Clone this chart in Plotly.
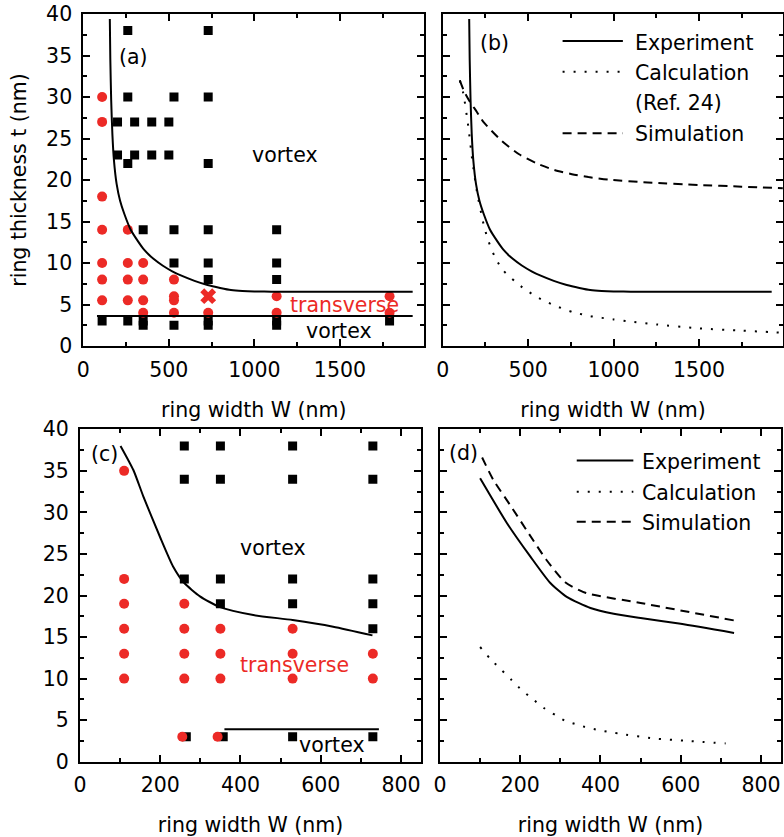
import plotly.graph_objects as go

# ---------------- data ----------------
# (a) phase diagram, Py rings: ring width W (nm) vs thickness t (nm)
a_vortex_W = [110, 200, 200, 260, 260, 260, 260, 300, 300, 350, 350, 350, 400, 400, 500, 500,
              530, 530, 530, 530, 730, 730, 730, 730, 730, 730, 730, 730,
              1130, 1130, 1130, 1130, 1130, 1790]
a_vortex_t = [3, 27, 23, 38, 30, 22, 3, 27, 23, 14, 3, 2.5, 27, 23, 27, 23,
              30, 14, 10, 2.5, 38, 30, 22, 14, 10, 8, 3, 2.5,
              14, 10, 8, 3, 2.5, 3]
a_trans_W = [110, 110, 110, 110, 110, 110, 110, 260, 260, 260, 260, 350, 350, 350, 350,
             530, 530, 530, 530, 730, 1130, 1130, 1790, 1790]
a_trans_t = [30, 27, 18, 14, 10, 8, 5.5, 14, 10, 8, 5.5, 10, 8, 5.5, 4,
             8, 6, 5.5, 4, 4, 6, 4, 6, 4]
a_mixed_W = [730]
a_mixed_t = [6]

# experimental upper phase boundary (shared by panels a and b)
exp_ab_W = [155, 158, 163, 170, 179, 195, 215, 240, 277, 320, 355, 410, 463, 520, 570, 650,
            726, 800, 863, 930, 1000, 1100, 1925]
exp_ab_t = [39.4, 34.5, 29.6, 25.5, 22.4, 19.5, 17.5, 15.9, 14.0, 12.6, 11.6, 10.5, 9.7, 9.0,
            8.5, 7.85, 7.35, 7.0, 6.75, 6.62, 6.56, 6.55, 6.55]
# lower phase boundary (a)
low_a_W = [80, 1925]
low_a_t = [3.6, 3.6]

# (b) calculation (Ref. 24) and simulation
calc_b_W = [100, 121, 150, 173, 202, 240, 265, 306, 350, 424, 480, 551, 620, 677, 760, 863,
            1000, 1107, 1250, 1500, 1750, 1990]
calc_b_t = [32.0, 30.4, 26.4, 22.4, 18.4, 14.6, 12.8, 10.7, 9.2, 7.75, 6.85, 5.9, 5.2, 4.7,
            4.1, 3.6, 3.2, 2.93, 2.6, 2.13, 1.85, 1.6]
sim_b_W = [100, 125, 160, 200, 238, 346, 447, 551, 654, 756, 853, 970, 1200, 1500, 1750, 1990]
sim_b_t = [32.0, 30.7, 29.4, 28.2, 27.0, 24.7, 23.1, 22.0, 21.2, 20.7, 20.35, 20.05, 19.7, 19.4,
           19.2, 19.0]

# (c) phase diagram, Co rings
c_vortex_W = [265, 260, 260, 260, 357, 350, 350, 350, 350, 530, 530, 530, 530, 530,
              730, 730, 730, 730, 730, 730]
c_vortex_t = [3, 22, 34, 38, 3, 19, 22, 34, 38, 3, 19, 22, 34, 38, 3, 16, 19, 22, 34, 38]
c_trans_W = [110, 110, 110, 110, 110, 110, 260, 260, 260, 260, 255, 350, 350, 350, 343,
             530, 530, 530, 730, 730]
c_trans_t = [35, 22, 19, 16, 13, 10, 19, 16, 13, 10, 3, 16, 13, 10, 3, 16, 13, 10, 13, 10]
exp_c_W = [101, 133, 158, 199, 232, 260, 299, 349, 432, 530, 631, 729]
exp_c_t = [38.0, 35.1, 31.9, 27.1, 23.5, 21.5, 19.9, 18.6, 17.65, 17.05, 16.25, 15.2]
low_c_W = [360, 745]
low_c_t = [3.9, 3.9]

# (d) experiment, calculation, simulation
exp_d_W = [100, 167, 225, 275, 317, 375, 433, 500, 600, 733]
exp_d_t = [34.1, 28.7, 24.7, 21.5, 19.8, 18.5, 17.8, 17.3, 16.6, 15.5]
calc_d_W = [100, 125, 154, 179, 204, 232, 258, 288, 313, 340, 367, 396, 425, 450, 533, 617, 712]
calc_d_t = [13.8, 12.4, 11.0, 9.8, 8.6, 7.5, 6.5, 5.6, 4.9, 4.5, 4.1, 3.8, 3.55, 3.35, 2.8, 2.5, 2.2]
sim_d_W = [105, 133, 176, 222, 265, 312, 364, 500, 733]
sim_d_t = [36.6, 33.9, 30.8, 27.4, 24.3, 21.6, 20.3, 19.1, 17.0]

# ---------------- styling ----------------
FONT = "DejaVu Sans, Liberation Sans, sans-serif"
FS = 20.5
RED = "#ec2a26"
DOT = "2px,9px"
DASH = "9px,6px"

fig = go.Figure()


def line(x, y, xa, ya, dash="solid", width=2):
    fig.add_trace(go.Scatter(x=x, y=y, mode="lines", xaxis=xa, yaxis=ya,
                             line=dict(color="black", width=width, dash=dash, shape="spline",
                                       smoothing=0.6),
                             showlegend=False, hoverinfo="skip"))


def squares(x, y, xa, ya):
    fig.add_trace(go.Scatter(x=x, y=y, mode="markers", xaxis=xa, yaxis=ya,
                             marker=dict(symbol="square", size=9, color="black"),
                             showlegend=False))


def circles(x, y, xa, ya):
    fig.add_trace(go.Scatter(x=x, y=y, mode="markers", xaxis=xa, yaxis=ya,
                             marker=dict(symbol="circle", size=10, color=RED),
                             showlegend=False))


# panel (a)
squares(a_vortex_W, a_vortex_t, "x", "y")
circles(a_trans_W, a_trans_t, "x", "y")
fig.add_trace(go.Scatter(x=a_mixed_W, y=a_mixed_t, mode="markers", xaxis="x", yaxis="y",
                         marker=dict(symbol="x", size=14, color=RED), showlegend=False))
line(exp_ab_W, exp_ab_t, "x", "y")
line(low_a_W, low_a_t, "x", "y")

# panel (b)
line(exp_ab_W, exp_ab_t, "x2", "y2")
line(calc_b_W, calc_b_t, "x2", "y2", dash=DOT)
line(sim_b_W, sim_b_t, "x2", "y2", dash=DASH)

# panel (c)
squares(c_vortex_W, c_vortex_t, "x3", "y3")
circles(c_trans_W, c_trans_t, "x3", "y3")
line(exp_c_W, exp_c_t, "x3", "y3")
line(low_c_W, low_c_t, "x3", "y3")

# panel (d)
line(exp_d_W, exp_d_t, "x4", "y4")
line(calc_d_W, calc_d_t, "x4", "y4", dash=DOT)
line(sim_d_W, sim_d_t, "x4", "y4", dash=DASH)

W_FIG, H_FIG = 784, 837


def dom(a, b, total):
    return [a / total, b / total]


def ydom(top, bottom):
    return [1 - bottom / H_FIG, 1 - top / H_FIG]


def axis(**kw):
    base = dict(showline=True, linecolor="black", linewidth=2, mirror="allticks",
                ticks="inside", ticklen=7, tickwidth=1.5, tickcolor="black",
                showgrid=False, zeroline=False, automargin=False, fixedrange=True,
                tickfont=dict(family=FONT, size=FS, color="black"),
                minor=dict(ticks="inside", ticklen=4, tickwidth=1.5, tickcolor="black",
                           showgrid=False))
    base.update(kw)
    return base


XT = dict(text="ring width W (nm)", font=dict(family=FONT, size=FS, color="black"), standoff=22)

fig.update_layout(
    width=W_FIG, height=H_FIG, margin=dict(l=0, r=0, t=0, b=0),
    paper_bgcolor="white", plot_bgcolor="white", showlegend=False,
    font=dict(family=FONT, size=FS, color="black"),
    xaxis=axis(domain=dom(83.3, 424.3, W_FIG), range=[0, 1993], dtick=500, tick0=0,
               minor_dtick=250, anchor="y", title=XT, ticklabelstandoff=4),
    yaxis=axis(domain=ydom(14, 346), range=[0, 40], dtick=5, tick0=0, minor_dtick=2.5,
               anchor="x", ticklabelstandoff=5,
               title=dict(text="ring thickness t (nm)",
                          font=dict(family=FONT, size=FS, color="black"), standoff=14)),
    xaxis2=axis(domain=dom(442.7, 783.3, W_FIG), range=[0, 1993], dtick=500, tick0=0,
                minor_dtick=250, anchor="y2", title=XT, ticklabelstandoff=4),
    yaxis2=axis(domain=ydom(14, 346), range=[0, 40], dtick=5, tick0=0, minor_dtick=2.5,
                anchor="x2", showticklabels=False),
    xaxis3=axis(domain=dom(80, 421, W_FIG), range=[0, 850], dtick=200, tick0=0,
                minor_dtick=100, anchor="y3", title=XT, ticklabelstandoff=4),
    yaxis3=axis(domain=ydom(429.3, 761.7), range=[0, 40], dtick=5, tick0=0, minor_dtick=2.5,
                anchor="x3", ticklabelstandoff=5),
    xaxis4=axis(domain=dom(440, 781, W_FIG), range=[0, 850], dtick=200, tick0=0,
                minor_dtick=100, anchor="y4", title=XT, ticklabelstandoff=4),
    yaxis4=axis(domain=ydom(429.3, 761.7), range=[0, 40], dtick=5, tick0=0, minor_dtick=2.5,
                anchor="x4", showticklabels=False),
)


def label(text, x, y, xa, ya, color="black", xanchor="center"):
    fig.add_annotation(text=text, x=x, y=y, xref=xa, yref=ya, showarrow=False,
                       xanchor=xanchor, yanchor="middle",
                       font=dict(family=FONT, size=FS, color=color))


# region and panel labels
label("(a)", 296, 34.8, "x", "y")
label("vortex", 1178, 23.0, "x", "y")
label("transverse", 1524, 4.9, "x", "y", color=RED)
label("vortex", 1494, 1.75, "x", "y")
label("(b)", 303, 36.5, "x2", "y2")
label("(c)", 62, 37.0, "x3", "y3")
label("vortex", 480, 25.7, "x3", "y3")
label("transverse", 534, 11.6, "x3", "y3", color=RED)
label("vortex", 629, 2.0, "x3", "y3")
label("(d)", 59, 37.1, "x4", "y4")


# legends drawn inside panels (b) and (d)
def legend_text(xa, ya, xt, ytext, text):
    fig.add_annotation(text=text, xref=xa + " domain", yref=ya + " domain", x=xt, y=ytext,
                       showarrow=False, xanchor="left", yanchor="middle",
                       font=dict(family=FONT, size=FS, color="black"))


def legend_row(xa, ya, x0, x1, xt, yline, ytext, dash, text):
    fig.add_shape(type="line", xref=xa + " domain", yref=ya + " domain",
                  x0=x0, x1=x1, y0=yline, y1=yline,
                  line=dict(color="black", width=2, dash=dash))
    legend_text(xa, ya, xt, ytext, text)


legend_row("x2", "y2", 0.352, 0.529, 0.559, 0.919, 0.914, "solid", "Experiment")
legend_row("x2", "y2", 0.352, 0.529, 0.559, 0.826, 0.823, DOT, "Calculation")
legend_text("x2", "y2", 0.559, 0.733, "(Ref. 24)")
legend_row("x2", "y2", 0.352, 0.529, 0.559, 0.641, 0.638, DASH, "Simulation")

legend_row("x4", "y4", 0.401, 0.567, 0.587, 0.906, 0.903, "solid", "Experiment")
legend_row("x4", "y4", 0.401, 0.567, 0.587, 0.812, 0.809, DOT, "Calculation")
legend_row("x4", "y4", 0.401, 0.567, 0.587, 0.722, 0.719, DASH, "Simulation")

fig.write_html("out.html")
